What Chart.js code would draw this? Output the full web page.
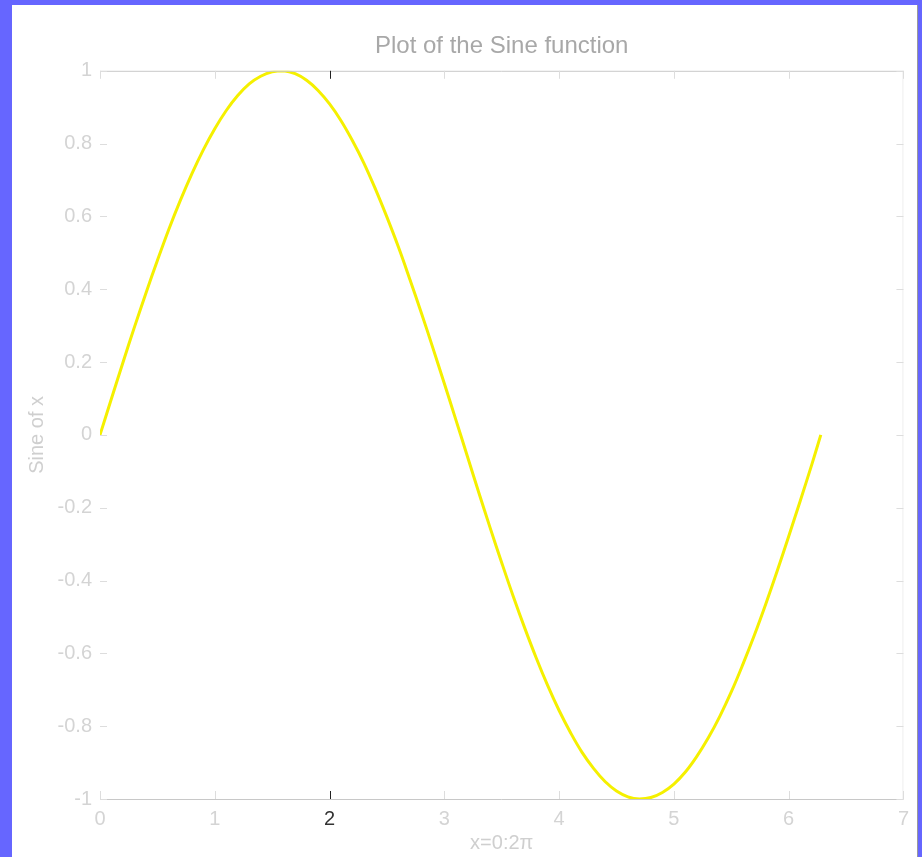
<!DOCTYPE html>
<html>
<head>
<meta charset="utf-8">
<script src="https://cdn.jsdelivr.net/npm/chart.js@4/dist/chart.umd.min.js"></script>
<style>
  html, body { margin: 0; padding: 0; background: #6666ff; width: 922px; height: 857px; overflow: hidden; }
  #wrap { position: absolute; left: 12px; top: 5px; width: 905px; height: 852px; background: #ffffff; border-right: 1px solid #9a9a9a; }
  canvas { display: block; }
</style>
</head>
<body>
<div id="wrap"><canvas id="c" width="905" height="852"></canvas></div>
<script>
// x values (radians)
const xValues = [0, 0.1, 0.2, 0.3, 0.4, 0.5, 0.6, 0.7, 0.8, 0.9, 1.0, 1.1, 1.2, 1.3, 1.4, 1.5, 1.6, 1.7, 1.8, 1.9,
                 2.0, 2.1, 2.2, 2.3, 2.4, 2.5, 2.6, 2.7, 2.8, 2.9, 3.0, 3.1, 3.2, 3.3, 3.4, 3.5, 3.6, 3.7, 3.8, 3.9,
                 4.0, 4.1, 4.2, 4.3, 4.4, 4.5, 4.6, 4.7, 4.8, 4.9, 5.0, 5.1, 5.2, 5.3, 5.4, 5.5, 5.6, 5.7, 5.8, 5.9,
                 6.0, 6.1, 6.2, 6.28];
// sine values
const yValues = [0.000, 0.100, 0.199, 0.296, 0.389, 0.479, 0.565, 0.644, 0.717, 0.783,
                 0.841, 0.891, 0.932, 0.964, 0.985, 0.997, 1.000, 0.992, 0.974, 0.946,
                 0.909, 0.863, 0.808, 0.746, 0.675, 0.598, 0.516, 0.427, 0.335, 0.239,
                 0.141, 0.042, -0.058, -0.158, -0.256, -0.351, -0.443, -0.530, -0.612, -0.688,
                 -0.757, -0.818, -0.872, -0.916, -0.952, -0.978, -0.994, -1.000, -0.996, -0.982,
                 -0.959, -0.926, -0.883, -0.832, -0.773, -0.706, -0.631, -0.551, -0.465, -0.374,
                 -0.279, -0.182, -0.083, 0.000];
const xTicks = [0, 1, 2, 3, 4, 5, 6, 7];
const yTicks = [-1, -0.8, -0.6, -0.4, -0.2, 0, 0.2, 0.4, 0.6, 0.8, 1];
const titleText = 'Plot of the Sine function';
const xLabel = 'x=0:2\u03C0';
const yLabel = 'Sine of x';

const points = xValues.map((x, i) => ({ x: x, y: yValues[i] }));
const FONT = "'Liberation Sans', Arial, Helvetica, sans-serif";

const frame = {
  id: 'frame',
  afterDatasetsDraw(chart) {
    const { ctx, chartArea: a, scales } = chart;
    ctx.save();
    ctx.lineWidth = 1;
    ctx.strokeStyle = '#c8c8c8';
    ctx.beginPath();
    ctx.moveTo(a.left, a.top + 0.5); ctx.lineTo(a.right, a.top + 0.5);
    ctx.moveTo(a.left, a.bottom + 0.5); ctx.lineTo(a.right, a.bottom + 0.5);
    ctx.stroke();
    ctx.strokeStyle = '#eeeeee';
    ctx.beginPath();
    ctx.moveTo(a.right - 0.5, a.top); ctx.lineTo(a.right - 0.5, a.bottom);
    ctx.stroke();
    xTicks.forEach(v => {
      const px = Math.round(scales.x.getPixelForValue(v)) + 0.5;
      ctx.strokeStyle = v === 2 ? '#222222' : '#dddddd';
      ctx.beginPath();
      ctx.moveTo(px, a.bottom); ctx.lineTo(px, a.bottom - 8);
      ctx.moveTo(px, a.top); ctx.lineTo(px, a.top + 8);
      ctx.stroke();
    });
    ctx.strokeStyle = '#dddddd';
    yTicks.forEach(v => {
      const py = Math.round(scales.y.getPixelForValue(v)) + 0.5;
      ctx.beginPath();
      ctx.moveTo(a.left, py); ctx.lineTo(a.left + 7, py);
      ctx.moveTo(a.right, py); ctx.lineTo(a.right - 7, py);
      ctx.stroke();
    });
    ctx.restore();
  }
};

new Chart(document.getElementById('c'), {
  type: 'line',
  data: {
    datasets: [{
      data: points,
      borderColor: '#f5f000',
      borderWidth: 3,
      pointRadius: 0,
      fill: false,
      tension: 0.4
    }]
  },
  options: {
    responsive: false,
    animation: false,
    layout: { padding: { left: 0, right: 12, top: 0, bottom: 0 } },
    plugins: {
      legend: { display: false },
      tooltip: { enabled: false },
      title: {
        display: true,
        fullSize: false,
        text: titleText,
        color: '#a8a8a8',
        font: { family: FONT, size: 24, weight: 'normal' },
        padding: { top: 27, bottom: 10 }
      }
    },
    scales: {
      x: {
        type: 'linear',
        min: 0, max: 7,
        afterBuildTicks: s => { s.ticks = xTicks.map(v => ({ value: v })); },
        afterFit: s => { s.height = 58; },
        border: { display: false },
        grid: { display: false, drawTicks: false },
        ticks: {
          padding: 8,
          color: ctx => ctx.tick && ctx.tick.value === 2 ? '#333333' : '#d4d4d4',
          font: { family: FONT, size: 20 },
          maxRotation: 0,
          callback: v => String(v)
        },
        title: {
          display: true,
          text: xLabel,
          color: '#cfcfcf',
          font: { family: FONT, size: 20 },
          padding: { top: 0, bottom: 2 }
        }
      },
      y: {
        type: 'linear',
        min: -1, max: 1,
        afterBuildTicks: s => { s.ticks = yTicks.map(v => ({ value: v })); },
        afterFit: s => { s.width = 88; },
        border: { display: false },
        grid: { display: false, drawTicks: false },
        ticks: {
          padding: 8,
          color: '#d4d4d4',
          font: { family: FONT, size: 20 },
          callback: v => String(Math.round(v * 10) / 10)
        },
        title: {
          display: true,
          text: yLabel,
          color: '#cfcfcf',
          font: { family: FONT, size: 20 },
          padding: { top: 13, bottom: 0 }
        }
      }
    }
  },
  plugins: [frame]
});
</script>
</body>
</html>
